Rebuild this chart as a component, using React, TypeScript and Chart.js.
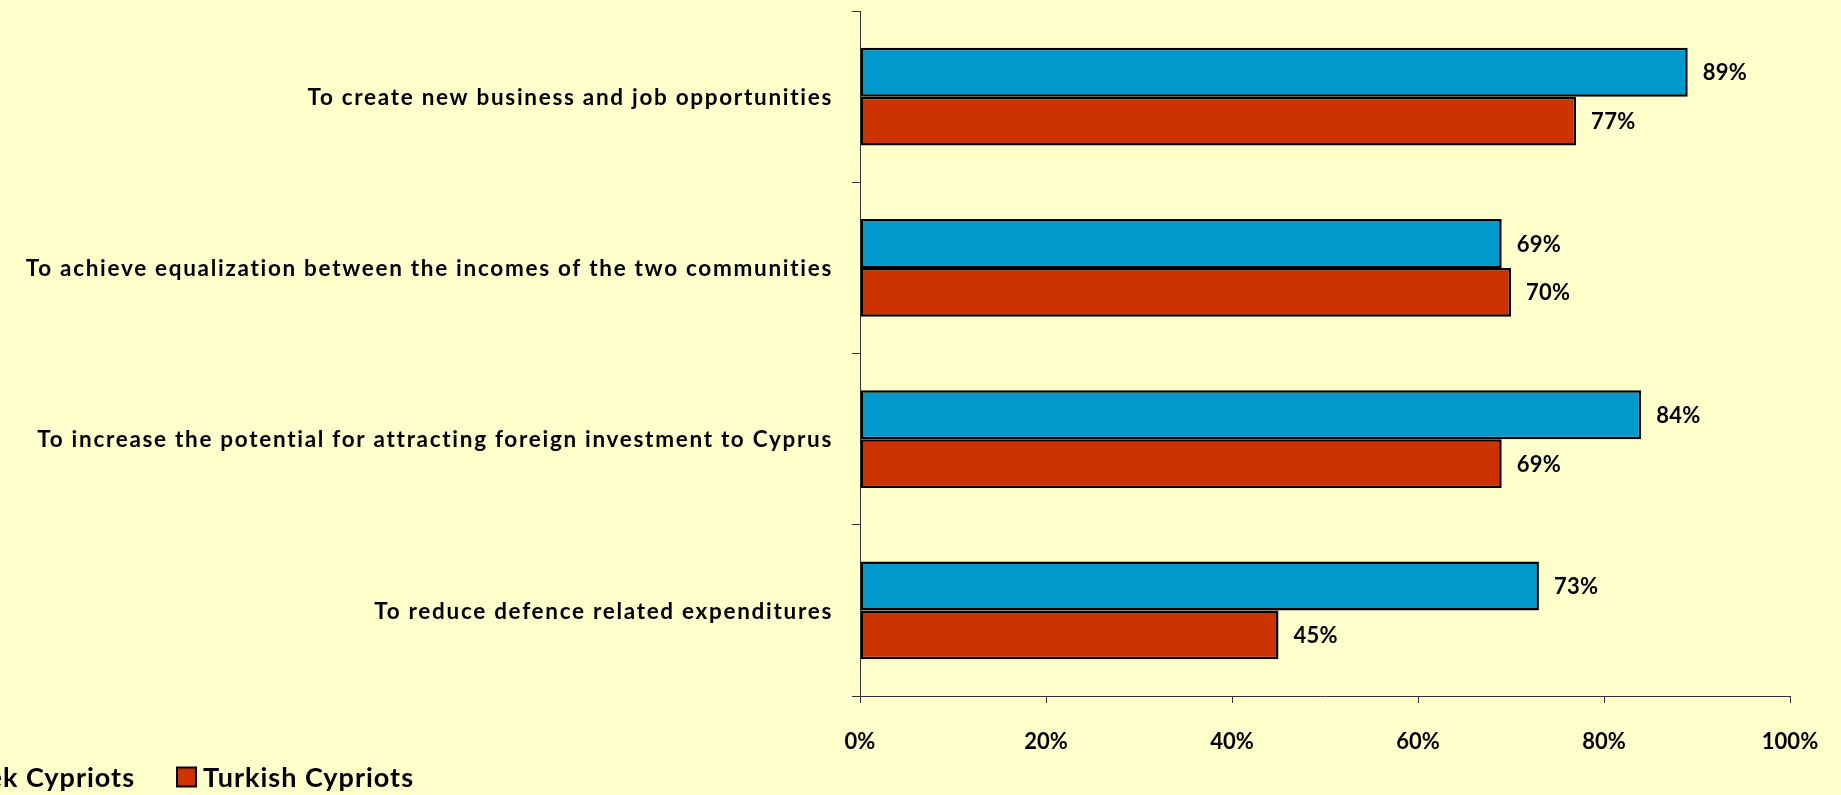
import React, { useEffect, useRef } from "react";
import { Chart, registerables } from "chart.js";

Chart.register(...registerables);

const categories = [
  "To create new business and job opportunities",
  "To achieve equalization between the incomes of the two communities",
  "To increase the potential for attracting foreign investment to Cyprus",
  "To reduce defence related expenditures",
];
const seriesNames = ["Greek Cypriots", "Turkish Cypriots"];
const greekValues = [89, 69, 84, 73];
const turkishValues = [77, 70, 69, 45];
const xTickValues = [0, 20, 40, 60, 80, 100];

const BLUE = "#0099CC";
const RED = "#CC3300";
const BG = "#FFFFCC";
const FONT = "Lato, 'DejaVu Sans', sans-serif";

const categoryLabels = {
  id: "categoryLabels",
  afterDraw(chart: any) {
    const ctx = chart.ctx;
    const scale = chart.scales.y;
    ctx.save();
    ctx.font = `bold 22.5px ${FONT}`;
    (ctx as any).letterSpacing = "1.7px";
    ctx.fillStyle = "#000";
    ctx.textBaseline = "middle";
    ctx.textAlign = "right";
    const labels = chart.data.labels as string[];
    labels.forEach((lab, i) => {
      const y = scale.getPixelForValue(i);
      ctx.fillText(lab, scale.right - 8 - 21 + 2, y + 1);
    });
    ctx.restore();
  },
};

const valueLabels = {
  id: "valueLabels",
  afterDatasetsDraw(chart: any) {
    const ctx = chart.ctx;
    ctx.save();
    ctx.font = `bold 22px ${FONT}`;
    (ctx as any).letterSpacing = "0.3px";
    ctx.fillStyle = "#000";
    ctx.textBaseline = "middle";
    ctx.textAlign = "left";
    chart.data.datasets.forEach((ds: any, i: number) => {
      const meta = chart.getDatasetMeta(i);
      meta.data.forEach((el: any, j: number) => {
        ctx.fillText(ds.data[j] + "%", el.x + 15, el.y + 1);
      });
    });
    ctx.restore();
  },
};

const customLegend = {
  id: "customLegend",
  afterDraw(chart: any) {
    const ctx = chart.ctx;
    ctx.save();
    ctx.font = `bold 27px ${FONT}`;
    (ctx as any).letterSpacing = "1px";
    ctx.textBaseline = "middle";
    ctx.textAlign = "left";
    const y = 777;
    const box = 19;
    const boxGap = 7;
    const itemGap = 42;
    const ds = chart.data.datasets;
    const positions: number[] = [];
    positions[ds.length - 1] = 177;
    for (let i = ds.length - 2; i >= 0; i--) {
      const w = ctx.measureText(ds[i].label).width;
      const textEnd = positions[i + 1] - itemGap;
      positions[i] = textEnd - w - boxGap - box;
    }
    ds.forEach((d: any, i: number) => {
      const x = positions[i];
      ctx.fillStyle = d.backgroundColor;
      ctx.fillRect(x, y - box / 2, box, box);
      ctx.lineWidth = 2;
      ctx.strokeStyle = "#000";
      ctx.strokeRect(x, y - box / 2, box, box);
      ctx.fillStyle = "#000";
      ctx.fillText(d.label, x + box + boxGap, y + 1);
    });
    ctx.restore();
  },
};

export default function App() {
  const ref = useRef<HTMLCanvasElement>(null);
  useEffect(() => {
    document.body.style.margin = "0";
    const chart = new Chart(ref.current!, {
      type: "bar",
      data: {
        labels: categories,
        datasets: [
          {
            label: seriesNames[0],
            data: greekValues,
            backgroundColor: BLUE,
            borderColor: "#000",
            borderWidth: 2.5,
            borderSkipped: false,
          },
          {
            label: seriesNames[1],
            data: turkishValues,
            backgroundColor: RED,
            borderColor: "#000",
            borderWidth: 2.5,
            borderSkipped: false,
          },
        ],
      },
      options: {
        indexAxis: "y",
        animation: false,
        responsive: false,
        events: [],
        categoryPercentage: 0.57,
        barPercentage: 1.0,
        layout: { padding: { top: 11, right: 51, left: 0, bottom: 0 } },
        plugins: {
          legend: { display: false },
          tooltip: { enabled: false },
        },
        scales: {
          x: {
            min: 0,
            max: 100,
            afterBuildTicks(scale: any) {
              scale.ticks = xTickValues.map((v) => ({ value: v }));
            },
            afterFit(scale: any) {
              scale.height = 99;
              scale.paddingLeft = 0;
              scale.paddingRight = 0;
            },
            grid: {
              drawOnChartArea: false,
              drawTicks: true,
              tickLength: 7,
              color: "#333333",
              lineWidth: 1,
            },
            border: { display: true, color: "#333333", width: 1 },
            ticks: {
              padding: 26,
              color: "#000",
              font: { family: FONT, size: 22, weight: "bold" },
              callback: (v: any) => v + "%",
              maxRotation: 0,
            },
          },
          y: {
            afterFit(scale: any) {
              scale.width = 860;
              scale.paddingTop = 0;
              scale.paddingBottom = 0;
            },
            grid: {
              offset: true,
              drawOnChartArea: false,
              drawTicks: true,
              tickLength: 8,
              color: "#333333",
              lineWidth: 1,
            },
            border: { display: true, color: "#333333", width: 1 },
            ticks: {
              display: false,
              autoSkip: false,
            },
          },
        },
      },
      plugins: [valueLabels, categoryLabels, customLegend],
    } as any);
    return () => chart.destroy();
  }, []);
  return (
    <div
      style={{
        position: "fixed",
        left: 0,
        top: 0,
        width: 1841,
        height: 795,
        background: BG,
      }}
    >
      <canvas ref={ref} width={1841} height={795} style={{ display: "block" }} />
    </div>
  );
}
